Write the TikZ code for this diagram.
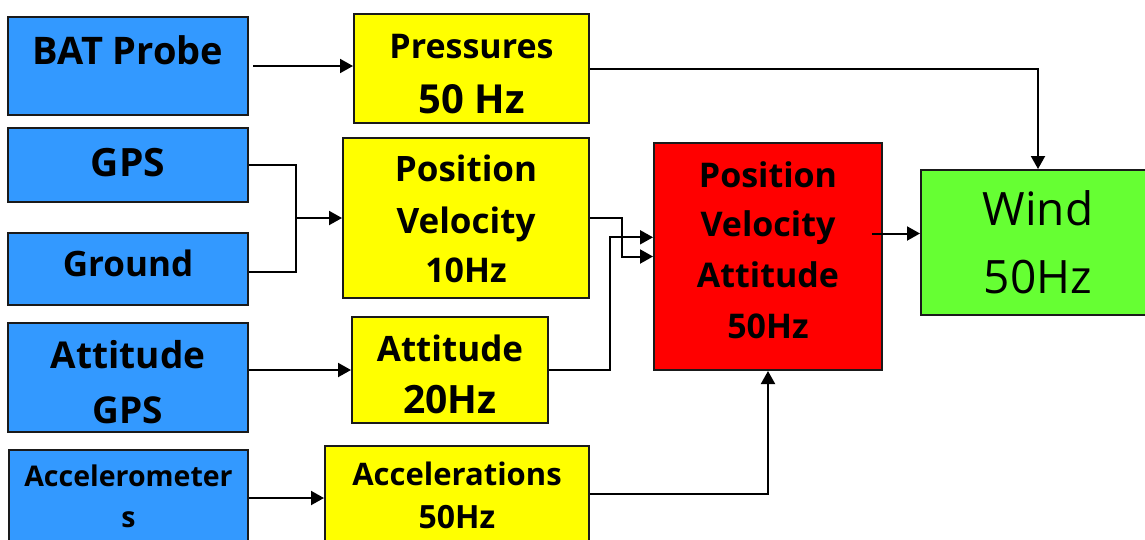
\documentclass[tikz,border=0pt]{standalone}
\usepackage{fontspec}
\setmainfont{Open Sans}
\usetikzlibrary{arrows.meta,calc}
\definecolor{bxblue}{HTML}{3399FF}
\definecolor{bxyellow}{HTML}{FFFF00}
\definecolor{bxred}{HTML}{FF0000}
\definecolor{bxgreen}{HTML}{66FF33}
\definecolor{bxedge}{HTML}{1A1A1A}
\newcommand\fsz[1]{\fontsize{#1}{#1}\selectfont}
\tikzset{
  box/.style={draw=bxedge, line width=2pt, inner sep=0pt, rectangle},
  blue/.style={box, fill=bxblue},
  yel/.style={box, fill=bxyellow},
  txt/.style={anchor=base, inner sep=0pt, font=\bfseries\fsz{#1}},
  txr/.style={anchor=base, inner sep=0pt, font=\fsz{#1}},
  wire/.style={line width=2pt, draw=black},
  arr/.style={wire, -{Triangle[length=13pt,width=14pt]}},
}
\begin{document}
\begin{tikzpicture}[x=1pt,y=-1pt]
\useasboundingbox (0,0) rectangle (1145,539);
\clip (0,0) rectangle (1145,539);
% boxes
\node[blue, minimum width=240pt, minimum height=98pt]  (bat)    at (128,66) {};
\node[yel,  minimum width=235pt, minimum height=109pt] (pres)   at (471.5,68.5) {};
\node[blue, minimum width=240pt, minimum height=74pt]  (gps)    at (128,165) {};
\node[blue, minimum width=240pt, minimum height=72pt]  (ground) at (128,269) {};
\node[yel,  minimum width=246pt, minimum height=160pt] (pv10)   at (466,218) {};
\node[blue, minimum width=240pt, minimum height=109pt] (attg)   at (128,377.5) {};
\node[yel,  minimum width=196pt, minimum height=106pt] (att20)  at (450,370) {};
\node[blue, minimum width=239pt, minimum height=110pt] (accm)   at (128.5,505) {};
\node[yel,  minimum width=264pt, minimum height=114pt] (accs)   at (457,503) {};
\node[box, fill=bxred,   minimum width=228pt, minimum height=227pt] (red)  at (768,256.5) {};
\node[box, fill=bxgreen, minimum width=234pt, minimum height=145pt] (wind) at (1038,242.5) {};
% texts
\node[txt=38] (batT)   at (128,64)    {BAT Probe};
\node[txt=34] (presT1) at (471.5,58.3) {Pressures};
\node[txt=40] (presT2) at (471.5,113)  {50 Hz};
\node[txt=39] (gpsT)   at (128,176.7) {GPS};
\node[txt=35] (grT)    at (128,276.7) {Ground};
\node[txt=35] (pvT1)   at (466,181.7) {Position};
\node[txt=35] (pvT2)   at (466,233.3) {Velocity};
\node[txt=34] (pvT3)   at (466,282.7) {10Hz};
\node[txt=37] (agT1)   at (128,368.3) {Attitude};
\node[txt=37] (agT2)   at (128,423.3) {GPS};
\node[txt=35] (atT1)   at (450,361.7) {Attitude};
\node[txt=39] (atT2)   at (450,413.3) {20Hz};
\node[txt=28.5] (amT1) at (128.5,486.7) {Accelerometer};
\node[txt=28.5] (amT2) at (128.5,527.7) {s};
\node[txt=31] (asT1)   at (457,485)   {Accelerations};
\node[txt=32] (asT2)   at (457,528.3) {50Hz};
\node[txt=34] (rdT1)   at (768,187.3) {Position};
\node[txt=34] (rdT2)   at (768,236.7) {Velocity};
\node[txt=34] (rdT3)   at (768,287.3) {Attitude};
\node[txt=34] (rdT4)   at (768,338.3) {50Hz};
\node[txr=46] (wdT1)   at (1038,225)  {Wind};
\node[txr=46] (wdT2)   at (1038,293.3) {50Hz};
% connectors
\coordinate (j1) at (295.5,218);
\coordinate (j2) at (610,237.3);
\coordinate (j3) at (872,233.5);
\draw[arr] ([xshift=4pt]bat.east) -- (bat.east -| pres.west);
\draw[wire] (gps.east) -| (j1);
\draw[wire] ([yshift=-3pt]ground.east) -| (j1);
\draw[arr] (j1) -- (j1 -| pv10.west);
\draw[arr] (pv10.east) -- ++(32,0) |- (red.west);
\draw[arr] (att20.east) -| (j2) -- (j2 -| red.west);
\draw[arr] ([yshift=9pt]accs.east) -| (red.south);
\draw[arr] (j3) -- (j3 -| wind.west);
\draw[arr] (pres.east) -| (wind.north);
\draw[arr] (attg.east |- att20.west) -- (att20.west);
\draw[arr] ([yshift=7pt]accm.east) -- ([yshift=7pt]accm.east -| accs.west);
\end{tikzpicture}
\end{document}
